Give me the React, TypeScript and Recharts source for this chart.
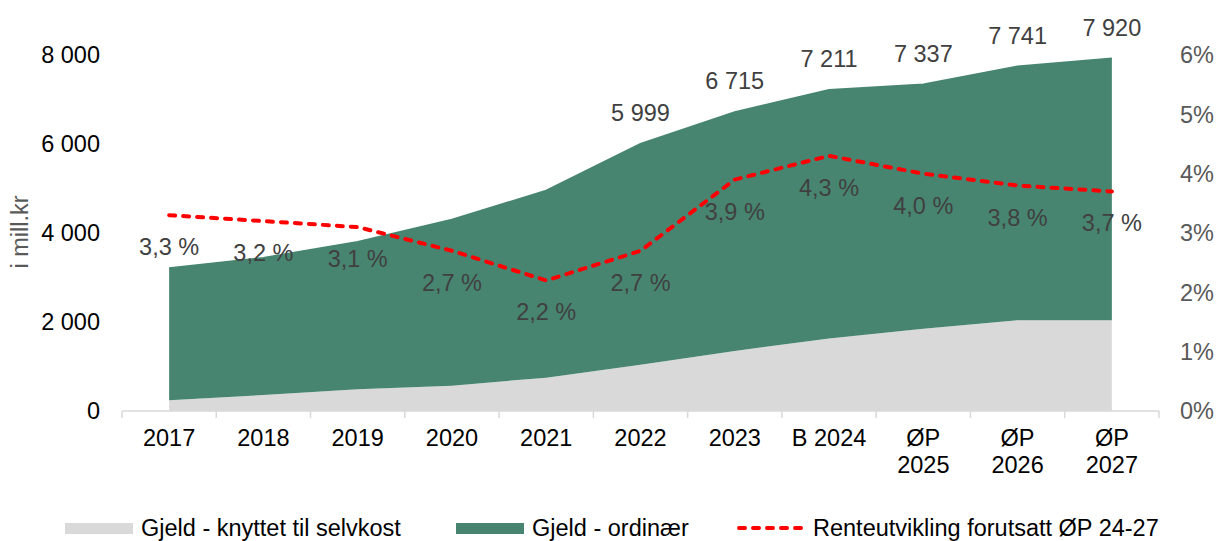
import React from 'react';
import { ComposedChart, Area, Line, XAxis, YAxis, LabelList, Legend, Label } from 'recharts';

const categories = ['2017', '2018', '2019', '2020', '2021', '2022', '2023', 'B 2024', 'ØP\n2025', 'ØP\n2026', 'ØP\n2027'];
const selvkost = [240, 360, 490, 570, 750, 1040, 1350, 1630, 1850, 2040, 2040];
const totalGjeld = [3210, 3440, 3800, 4300, 4950, 5999, 6715, 7211, 7337, 7741, 7920];
const showTotal = [false, false, false, false, false, true, true, true, true, true, true];
const rente = [3.3, 3.2, 3.1, 2.7, 2.2, 2.7, 3.9, 4.3, 4.0, 3.8, 3.7];
const leftTicks = [0, 2000, 4000, 6000, 8000];
const rightTicks = [0, 1, 2, 3, 4, 5, 6];

const seriesNames = ['Gjeld - knyttet til selvkost', 'Gjeld - ordinær', 'Renteutvikling forutsatt ØP 24-27'];

const data = categories.map((c, i) => ({
  cat: c,
  selvkost: selvkost[i],
  ordinaer: totalGjeld[i] - selvkost[i],
  total: showTotal[i] ? totalGjeld[i] : 0,
  rente: rente[i],
}));

const W = 1216;
const H = 541;
const FONT = '"Liberation Sans", Arial, sans-serif';
const FS = 23.5;
const GREY = '#d9d9d9';
const GREEN = '#478570';
const RED = '#ff0000';
const LABEL = '#404040';
const PLOT_LEFT = 122;
const PLOT_RIGHT = 1159;
const BAND = (PLOT_RIGHT - PLOT_LEFT) / categories.length;

const fmtThousands = (v: number) => String(v).replace(/\B(?=(\d{3})+(?!\d))/g, ' ');
const fmtPct = (v: number) => v.toFixed(1).replace('.', ',') + ' %';

const XTick = (props: any) => {
  const { x, y, payload, index } = props;
  const lines = String(payload.value).split('\n');
  const ay = y - 8;
  return (
    <g>
      <line x1={x - BAND / 2} y1={ay} x2={x - BAND / 2} y2={ay + 7} stroke={GREY} strokeWidth={1.5} />
      {index === categories.length - 1 && (
        <line x1={x + BAND / 2} y1={ay} x2={x + BAND / 2} y2={ay + 7} stroke={GREY} strokeWidth={1.5} />
      )}
      <text x={x} y={ay + 27} textAnchor="middle" dominantBaseline="central" fill="#000" fontSize={FS} fontFamily={FONT}>
        {lines.map((l, i) => (
          <tspan key={i} x={x} dy={i === 0 ? 0 : 27}>
            {l}
          </tspan>
        ))}
      </text>
    </g>
  );
};

const renderTotal = (props: any) => {
  const { x, y, value } = props;
  if (!value) return null;
  return (
    <text x={x} y={y - 31} textAnchor="middle" dominantBaseline="central" fill={LABEL} fontSize={FS} fontFamily={FONT}>
      {fmtThousands(Number(value))}
    </text>
  );
};

const renderPct = (props: any) => {
  const { x, y, value } = props;
  return (
    <text x={x} y={y + 32} textAnchor="middle" dominantBaseline="central" fill={LABEL} fontSize={FS} fontFamily={FONT}>
      {fmtPct(Number(value))}
    </text>
  );
};

const renderLegend = () => (
  <div style={{ position: 'relative', width: W, height: 30, fontFamily: FONT, fontSize: FS, color: '#000' }}>
    <div style={{ position: 'absolute', left: 65, top: 10, width: 68, height: 11, background: GREY }} />
    <span style={{ position: 'absolute', left: 141, top: 0, lineHeight: '30px', whiteSpace: 'nowrap' }}>{seriesNames[0]}</span>
    <div style={{ position: 'absolute', left: 456, top: 10, width: 68, height: 11, background: GREEN }} />
    <span style={{ position: 'absolute', left: 532, top: 0, lineHeight: '30px', whiteSpace: 'nowrap' }}>{seriesNames[1]}</span>
    <svg style={{ position: 'absolute', left: 736, top: 10 }} width={74} height={10}>
      <line x1={3} y1={5} x2={71} y2={5} stroke={RED} strokeWidth={4} strokeDasharray="6 8" strokeLinecap="round" />
    </svg>
    <span style={{ position: 'absolute', left: 813, top: 0, lineHeight: '30px', whiteSpace: 'nowrap' }}>{seriesNames[2]}</span>
  </div>
);

const renderYLabel = () => (
  <text
    x={20}
    y={232}
    transform="rotate(-90 20 232)"
    textAnchor="middle"
    dominantBaseline="central"
    fill="#595959"
    fontSize={FS}
    fontFamily={FONT}
  >
    i mill.kr
  </text>
);

export default function App() {
  return (
    <div style={{ position: 'absolute', left: 0, top: 0, width: W, height: H, background: '#fff' }}>
      <ComposedChart width={W} height={H} data={data} margin={{ top: 55, right: 0, bottom: 50, left: 0 }}>
        <XAxis
          dataKey="cat"
          height={80}
          interval={0}
          padding={{ left: BAND / 2, right: BAND / 2 }}
          tick={<XTick />}
          tickLine={false}
          axisLine={{ stroke: GREY, strokeWidth: 1.5 }}
        />
        <YAxis
          yAxisId="left"
          orientation="left"
          width={122}
          domain={[0, 8000]}
          ticks={leftTicks}
          tickFormatter={(v: number) => fmtThousands(v)}
          tick={{ fill: '#000', fontSize: FS, fontFamily: FONT }}
          axisLine={false}
          tickLine={false}
          tickMargin={16}
        >
          <Label content={renderYLabel} />
        </YAxis>
        <YAxis
          yAxisId="right"
          orientation="right"
          width={W - PLOT_RIGHT}
          domain={[0, 6]}
          ticks={rightTicks}
          tickFormatter={(v: number) => `${v}%`}
          tick={{ fill: '#595959', fontSize: FS, fontFamily: FONT }}
          axisLine={false}
          tickLine={false}
          tickMargin={15}
        />
        <Area
          yAxisId="left"
          type="linear"
          dataKey="selvkost"
          stackId="a"
          stroke="none"
          fill={GREY}
          fillOpacity={1}
          isAnimationActive={false}
          name={seriesNames[0]}
        />
        <Area
          yAxisId="left"
          type="linear"
          dataKey="ordinaer"
          stackId="a"
          stroke={GREEN}
          strokeWidth={2}
          fill={GREEN}
          fillOpacity={1}
          isAnimationActive={false}
          name={seriesNames[1]}
        >
          <LabelList dataKey="total" content={renderTotal} />
        </Area>
        <Line
          yAxisId="right"
          type="linear"
          dataKey="rente"
          stroke={RED}
          strokeWidth={4}
          strokeDasharray="6 8"
          strokeLinecap="round"
          dot={false}
          isAnimationActive={false}
          name={seriesNames[2]}
        >
          <LabelList dataKey="rente" content={renderPct} />
        </Line>
        <Legend
          layout="horizontal"
          verticalAlign="middle"
          align="center"
          content={renderLegend}
          wrapperStyle={{ position: 'absolute', left: 0, top: 513, width: W, height: 30 }}
        />
      </ComposedChart>
    </div>
  );
}
